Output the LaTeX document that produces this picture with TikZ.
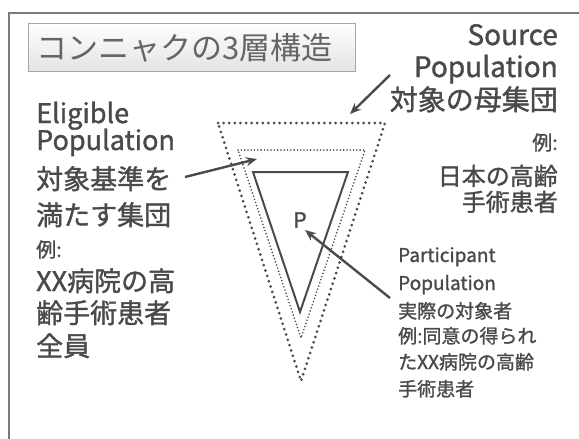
\documentclass[tikz,border=0pt]{standalone}
\usepackage{fontspec}
\setmainfont{Noto Sans CJK JP}
\newfontfamily\medfont{Noto Sans CJK JP}[FakeBold=1.3]
\usetikzlibrary{arrows.meta}
\definecolor{ink}{HTML}{4A4A4A}
\definecolor{frameline}{HTML}{7A7A7A}
\begin{document}
\begin{tikzpicture}[x=1pt,y=-1pt,
  frameedge/.style={draw=frameline,line width=2pt},
  titlebox/.style={draw=gray!70,line width=0.8pt,top color=white,bottom color=gray!22,
    anchor=north west,text width=311pt,inner xsep=8pt,minimum height=48pt,align=left,
    font=\fontsize{31}{36}\selectfont,text=ink!85},
  bigtxt/.style={font=\medfont\fontsize{27}{32}\selectfont,text=ink,inner sep=0pt},
  srctxt/.style={font=\medfont\fontsize{28}{32}\selectfont,text=ink,inner sep=0pt},
  srcsmall/.style={font=\medfont\fontsize{24}{28}\selectfont,text=ink,inner sep=0pt},
  smalltxt/.style={font=\medfont\fontsize{20}{24}\selectfont,text=ink,inner sep=0pt},
  parttxt/.style={font=\medfont\fontsize{19}{23}\selectfont,text=ink,inner sep=0pt},
  outerdots/.style={draw=ink,line width=3pt,line cap=round,dash pattern=on 0pt off 5.6pt},
  innerdots/.style={draw=ink,line width=1.8pt,line cap=round,dash pattern=on 0pt off 3.3pt},
  solidtri/.style={draw=ink,line width=2pt,line join=miter},
  pointer/.style={draw=ink,line width=2.4pt,-{Stealth[length=11pt,width=9pt]}}]
\useasboundingbox (0,0) rectangle (579,439);
\fill[white] (0,0) rectangle (579,439);
\draw[frameedge] (9,439) -- (9,13) -- (579,13);

\node[titlebox] (title) at (28,23) {コンニャクの3層構造};

% triangles
\draw[outerdots] (218,123) -- (385,123) -- (301,381) -- cycle;
\draw[innerdots] (238,150) -- (365,150) -- (301,338) -- cycle;
\draw[solidtri] (253,172) -- (348,172) -- (300,312) -- cycle;
\node[font=\medfont\fontsize{21}{24}\selectfont,text=ink,inner sep=0pt] (p) at (300,220) {P};

% Source population
\node[srctxt,anchor=base east] (s1) at (558,45) {Source};
\node[srctxt,anchor=base east] (s2) at (558,77) {Population};
\node[srctxt,anchor=base east] (s3) at (558,110) {対象の母集団};
\node[smalltxt,anchor=base east] (s4) at (558,150) {例:};
\node[srcsmall,anchor=base east] (s5) at (558,185) {日本の高齢};
\node[srcsmall,anchor=base east] (s6) at (558,211) {手術患者};

% Eligible population
\node[bigtxt,anchor=base west] (e1) at (36,123) {Eligible};
\node[bigtxt,anchor=base west] (e2) at (36,150) {Population};
\node[bigtxt,anchor=base west] (e3) at (36,189) {対象基準を};
\node[bigtxt,anchor=base west] (e4) at (36,225) {満たす集団};
\node[smalltxt,anchor=base west] (e5) at (36,257) {例:};
\node[bigtxt,anchor=base west] (e6) at (36,291) {XX病院の高};
\node[bigtxt,anchor=base west] (e7) at (36,323) {齢手術患者};
\node[bigtxt,anchor=base west] (e8) at (36,356) {全員};

% Participant population
\node[parttxt,anchor=base west] (q1) at (398,262) {Participant};
\node[parttxt,anchor=base west] (q2) at (398,290) {Population};
\node[parttxt,anchor=base west] (q3) at (398,318) {実際の対象者};
\node[parttxt,anchor=base west] (q4) at (398,343) {例:同意の得られ};
\node[parttxt,anchor=base west] (q5) at (398,369) {たXX病院の高齢};
\node[parttxt,anchor=base west] (q6) at (398,396) {手術患者};

% arrows
\coordinate (srcfrom) at (390,75);
\coordinate (srcto) at (350,114);
\coordinate (elifrom) at (185,177);
\coordinate (elito) at (257,159);
\coordinate (parfrom) at (390,298);
\coordinate (parto) at (305,230);
\draw[pointer] (srcfrom) -- (srcto);
\draw[pointer] (elifrom) -- (elito);
\draw[pointer] (parfrom) -- (parto);
\end{tikzpicture}
\end{document}
